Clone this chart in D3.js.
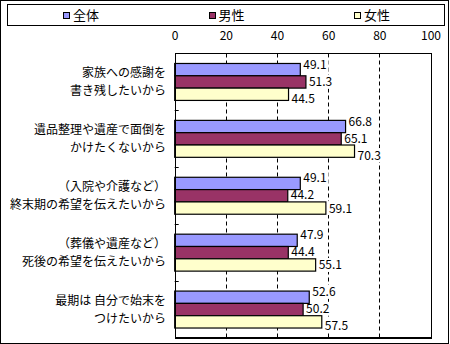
<!DOCTYPE html>
<html>
<head>
<meta charset="utf-8">
<script src="https://cdn.jsdelivr.net/npm/d3@7"></script>
<style>
  html, body { margin: 0; padding: 0; background: #fff; }
  svg { display: block; }
  text { font-family: "Noto Sans CJK JP", "Noto Sans", sans-serif; fill: #000; }
</style>
</head>
<body>
<script>
// Survey reasons, one row per reason (two text lines each)
const categories = [
  ["家族への感謝を", "書き残したいから"],
  ["遺品整理や遺産で面倒を", "かけたくないから"],
  ["（入院や介護など）", "終末期の希望を伝えたいから"],
  ["（葬儀や遺産など）", "死後の希望を伝えたいから"],
  ["最期は 自分で始末を", "つけたいから"]
];
const series = ["全体", "男性", "女性"];
const seriesColors = ["#9999FF", "#993366", "#FFFFCC"];
const valuesAll = [49.1, 66.8, 49.1, 47.9, 52.6];
const valuesMale = [51.3, 65.1, 44.2, 44.4, 50.2];
const valuesFemale = [44.5, 70.3, 59.1, 55.1, 57.5];
const xTicks = [0, 20, 40, 60, 80, 100];

const W = 450, H = 344;
const plot = { left: 174.7, right: 430.5, top: 53.5, bottom: 338 };

const svg = d3.select("body").append("svg").attr("width", W).attr("height", H);

// outer frame
svg.append("rect").attr("x", 0.5).attr("y", 0.5).attr("width", 448).attr("height", 342.5)
  .attr("fill", "#fff").attr("stroke", "#000").attr("shape-rendering", "crispEdges");

// legend
const legendG = svg.append("g");
legendG.append("rect").attr("x", 7.5).attr("y", 4.5).attr("width", 437).attr("height", 20.5)
  .attr("fill", "#fff").attr("stroke", "#000").attr("shape-rendering", "crispEdges");
const lx = d3.scalePoint().domain(series).range([63, 354]);
series.forEach((s, i) => {
  legendG.append("rect").attr("x", lx(s) + 0.5).attr("y", 12.5).attr("width", 6).attr("height", 6)
    .attr("fill", seriesColors[i]).attr("stroke", "#000").attr("shape-rendering", "crispEdges");
  legendG.append("text").attr("x", lx(s) + 10).attr("y", 20).attr("font-size", 13).text(s);
});

const x = d3.scaleLinear().domain([0, 100]).range([plot.left, plot.right]);
const y0 = d3.scaleBand().domain(d3.range(categories.length)).range([plot.top, plot.bottom]).padding(0);
const y1 = d3.scaleBand().domain(series).range([0, y0.bandwidth()]).paddingInner(0).paddingOuter(0.81);

// plot background
svg.append("rect").attr("x", x(0)).attr("y", plot.top).attr("width", x(100) - x(0))
  .attr("height", plot.bottom - plot.top).attr("fill", "#fff");

// dashed gridlines
svg.append("g").selectAll("line").data(xTicks.filter(t => t > 0 && t < 100)).join("line")
  .attr("x1", d => Math.round(x(d)) + 0.5).attr("x2", d => Math.round(x(d)) + 0.5)
  .attr("y1", plot.top).attr("y2", plot.bottom)
  .attr("stroke", "#000").attr("stroke-dasharray", "4,3");

// top axis labels
const axis = d3.axisTop(x).tickValues(xTicks).tickSize(0).tickPadding(0).tickFormat(d3.format("d"));
const axG = svg.append("g").attr("transform", "translate(0,40)").call(axis);
axG.select(".domain").remove();
axG.selectAll("text").attr("font-size", 12).attr("font-family", "\"Noto Sans CJK JP\", sans-serif").attr("fill", "#000");

// bar records
const rows = categories.map((c, i) => ({
  i, vals: [valuesAll[i], valuesMale[i], valuesFemale[i]]
}));
const barData = [];
rows.forEach(r => r.vals.forEach((v, k) => barData.push({
  cat: r.i, k, v,
  y: y0(r.i) + y1(series[k]), h: y1.bandwidth()
})));

// label backgrounds sit under the bars, over the gridlines
const labelBoxG = svg.append("g");

svg.append("g").selectAll("rect").data(barData).join("rect")
  .attr("x", x(0)).attr("y", d => d.y).attr("width", d => x(d.v) - x(0)).attr("height", d => d.h)
  .attr("fill", d => seriesColors[d.k]).attr("stroke", "#000").attr("stroke-width", 1.2);

// plot frame and category ticks
svg.append("rect").attr("x", Math.round(x(0)) + 0.5).attr("y", plot.top)
  .attr("width", Math.round(x(100)) - Math.round(x(0))).attr("height", plot.bottom - plot.top)
  .attr("fill", "none").attr("stroke", "#000").attr("stroke-width", 1.2).attr("shape-rendering", "crispEdges");
svg.append("g").selectAll("line").data(d3.range(1, categories.length)).join("line")
  .attr("x1", x(0)).attr("x2", x(0) + 4)
  .attr("y1", d => Math.round(y0(d)) + 0.5).attr("y2", d => Math.round(y0(d)) + 0.5)
  .attr("stroke", "#000");

// category labels, two lines each
const catG = svg.append("g");
categories.forEach((lines, i) => {
  const cy = y0(i) + y0.bandwidth() / 2;
  catG.append("text").attr("x", 166).attr("y", cy - 4.5).attr("text-anchor", "end")
    .attr("font-size", 12).text(lines[0]);
  catG.append("text").attr("x", 166).attr("y", cy + 13).attr("text-anchor", "end")
    .attr("font-size", 12).text(lines[1]);
});

// value labels, nudged vertically so they do not collide
const labelG = svg.append("g");
const labels = barData.map(d => {
  const t = labelG.append("text").attr("font-size", 12).text(d.v.toFixed(1));
  const w = t.node().getComputedTextLength();
  return { d, t, x0: x(d.v) + 3, x1: x(d.v) + 3 + w + 2, cy: d.y + d.h / 2 };
});
const LH = 17;
for (let iter = 0; iter < 40; iter++) {
  labels.forEach(a => {
    barData.filter(b => b.cat === a.d.cat && b.k !== a.d.k).forEach(b => {
      const bx1 = x(b.v);
      if (a.x0 < bx1) {
        const top = a.cy - LH / 2, bot = a.cy + LH / 2;
        if (bot > b.y && top < b.y + b.h) {
          if (a.cy < b.y + b.h / 2) a.cy -= (bot - b.y) * 0.5;
          else a.cy += (b.y + b.h - top) * 0.5;
        }
      }
    });
    labels.filter(o => o !== a && o.d.cat === a.d.cat).forEach(o => {
      if (a.x0 < o.x1 && a.x1 > o.x0) {
        const ov = LH - Math.abs(a.cy - o.cy);
        if (ov > 0) {
          const dir = a.cy < o.cy ? -1 : 1;
          a.cy += dir * ov / 4;
          o.cy -= dir * ov / 4;
        }
      }
    });
  });
}
labels.forEach(l => {
  labelBoxG.append("rect").attr("x", l.x0 - 1).attr("y", l.cy - 7)
    .attr("width", l.x1 - l.x0 + 1).attr("height", 14).attr("fill", "#fff");
  l.t.attr("x", l.x0).attr("y", l.cy + 4.5);
});
</script>
</body>
</html>
